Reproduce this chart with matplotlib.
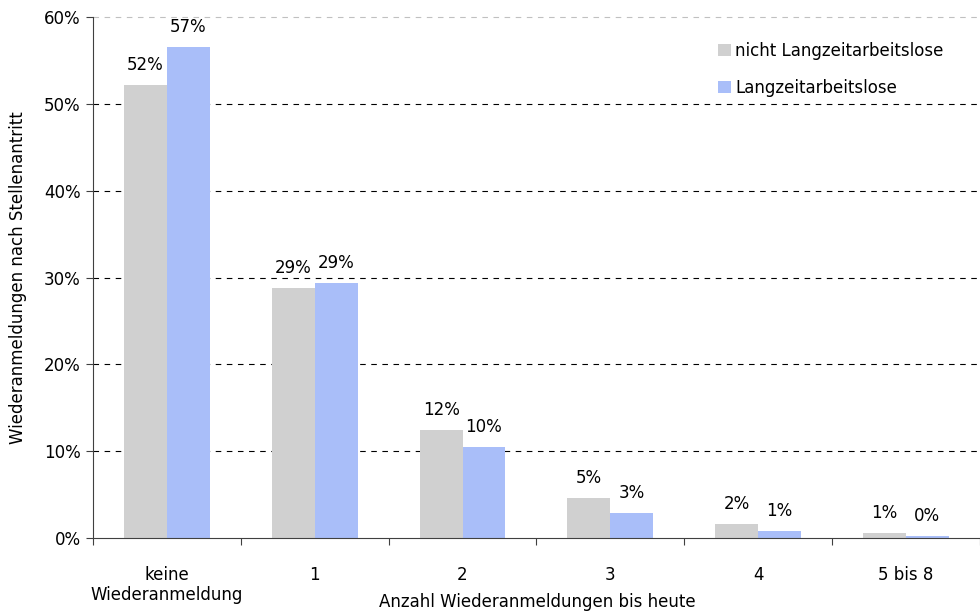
import numpy as np
import matplotlib.pyplot as plt

categories = ["keine\nWiederanmeldung", "1", "2", "3", "4", "5 bis 8"]
nicht_lza = [52.2, 28.8, 12.4, 4.6, 1.6, 0.6]
lza = [56.6, 29.4, 10.5, 2.9, 0.8, 0.2]
labels_nicht = ["52%", "29%", "12%", "5%", "2%", "1%"]
labels_lza = ["57%", "29%", "10%", "3%", "1%", "0%"]

plt.rcParams['font.family'] = ['DejaVu Sans']
fs = 12

fig = plt.figure(figsize=(9.8, 6.12), dpi=100)
ax = fig.add_axes([0.0949, 0.121, 0.905, 0.851])

x = np.arange(len(categories))
w = 0.29
b1 = ax.bar(x - w/2, nicht_lza, w, color="#D0D0D0", label="nicht Langzeitarbeitslose")
b2 = ax.bar(x + w/2, lza, w, color="#A9BEF9", label="Langzeitarbeitslose")

for rect, t in zip(b1, labels_nicht):
    ax.annotate(t, (rect.get_x() + rect.get_width()/2, rect.get_height()),
                xytext=(0, 8), textcoords="offset points", ha="center", va="bottom", fontsize=fs)
for rect, t in zip(b2, labels_lza):
    ax.annotate(t, (rect.get_x() + rect.get_width()/2, rect.get_height()),
                xytext=(0, 8), textcoords="offset points", ha="center", va="bottom", fontsize=fs)

ax.set_xlim(-0.5, len(categories) - 0.5)
ax.set_ylim(0, 60)
ax.set_yticks(np.arange(0, 61, 10))
ax.set_yticklabels([f"{v}%" for v in range(0, 61, 10)], fontsize=fs)
for v in range(10, 51, 10):
    ax.axhline(v, color="black", lw=0.8, ls=(0, (5, 5)), zorder=0)
ax.axhline(60, color="#C0C0C0", lw=0.8, ls=(0, (5, 5)), zorder=0, clip_on=False)

ax.set_xticks(np.arange(-0.5, len(categories), 1))
ax.set_xticklabels([])
ax.set_xticks(x, minor=True)
ax.set_xticklabels(categories, minor=True, fontsize=fs, linespacing=1.15)
ax.tick_params(axis="x", which="minor", length=0, pad=20)
ax.tick_params(axis="x", which="major", length=5, direction="out", color="#404040")
ax.tick_params(axis="y", length=5, direction="out", color="#404040", pad=4)

for s in ["top", "right"]:
    ax.spines[s].set_visible(False)
ax.spines["left"].set_color("#404040")
ax.spines["bottom"].set_color("#404040")

ax.set_ylabel("Wiederanmeldungen nach Stellenantritt", fontsize=fs, labelpad=12)
fig.text(0.548, 1 - 602/612, "Anzahl Wiederanmeldungen bis heute",
         fontsize=fs, ha="center", va="center")

leg = ax.legend(loc="upper right", bbox_to_anchor=(0.972, 0.975), frameon=True, fontsize=fs,
                handlelength=0.75, handleheight=0.75, handletextpad=0.25, labelspacing=1.15,
                edgecolor="white", framealpha=1, borderpad=0.2)

fig.savefig("out.png", dpi=100)
